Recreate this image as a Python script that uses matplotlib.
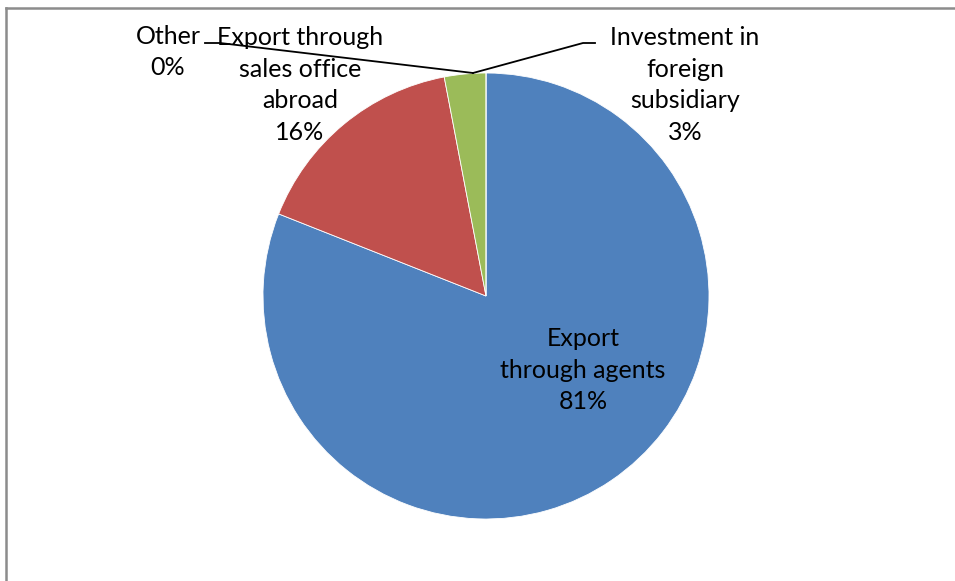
import matplotlib
matplotlib.use('Agg')
import matplotlib.pyplot as plt
from matplotlib.lines import Line2D

labels = ['Export\nthrough agents', 'Export through\nsales office\nabroad',
          'Investment in\nforeign\nsubsidiary', 'Other']
shares = [81, 16, 3, 0]
colors = ['#4F81BD', '#C0504D', '#9BBB59', '#8064A2']

W, H = 955, 581
CX, CY, R = 486, 296, 223


def px(x, y):
    # pixel position -> data units (pie radius = 1)
    return (x - CX) / R, (CY - y) / R


fig = plt.figure(figsize=(W / 100, H / 100), dpi=100)
ax = fig.add_axes([0, 0, 1, 1])
ax.axis('off')

ax.pie(shares, colors=colors, startangle=90, counterclock=False, radius=1,
       wedgeprops=dict(edgecolor='white', linewidth=0.6))
ax.set_xlim(-CX / R, (W - CX) / R)
ax.set_ylim(-(H - CY) / R, CY / R)
ax.set_aspect('auto')

font = dict(family='Lato', fontsize=18, color='black', ha='center', va='center',
            linespacing=1.44)
label_pos = [(583, 370), (300, 85), (685, 85), (168, 52)]
for lab, val, (lx, ly) in zip(labels, shares, label_pos):
    ax.text(*px(lx, ly), f'{lab}\n{val}%', **font)

# leader lines for the two thin slices
for pts in [[(205, 43), (220, 43), (473, 73)],
            [(595, 43), (583, 43), (473, 73)]]:
    xs, ys = zip(*[px(*p) for p in pts])
    ax.plot(xs, ys, color='black', linewidth=1.3)

# chart area border
fig.add_artist(Line2D([6 / W, 6 / W], [0, 1 - 8 / H], transform=fig.transFigure,
                      color='#8c8c8c', linewidth=1.8))
fig.add_artist(Line2D([6 / W, 1], [1 - 8 / H, 1 - 8 / H], transform=fig.transFigure,
                      color='#8c8c8c', linewidth=1.8))

fig.savefig('out.png', dpi=100)
